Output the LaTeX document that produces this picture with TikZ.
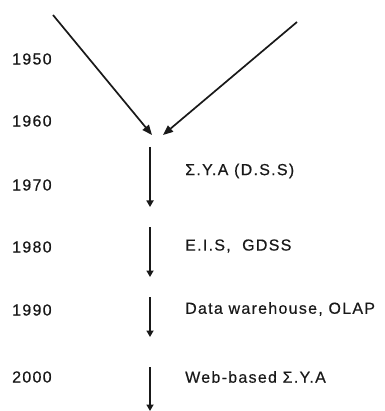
\documentclass[tikz,border=0pt]{standalone}
\usepackage{fontspec}
\setmainfont{Liberation Sans}
\newfontfamily\labfont[LetterSpace=8,FakeBold=0.4]{Liberation Sans}
\usetikzlibrary{arrows.meta}
\begin{document}
\begin{tikzpicture}[x=1pt,y=-1pt,
  txt/.style={font=\labfont\fontsize{16}{18}\selectfont, text=black!90, inner sep=0pt, anchor=west},
  diag/.style={line width=1.7pt, draw=black!90, -{Triangle[length=10pt,width=8pt]}},
  vert/.style={line width=2.6pt, draw=black!90, -{Triangle[length=6.5pt,width=7pt]}}]
\useasboundingbox[fill=white] (0,0) rectangle (384,411);
% years
\node[txt] (y50) at (12,59) {1950};
\node[txt] (y60) at (12,121) {1960};
\node[txt] (y70) at (12,185) {1970};
\node[txt] (y80) at (12,247) {1980};
\node[txt] (y90) at (12,310) {1990};
\node[txt] (y00) at (12,377) {2000};
% descriptions
\node[txt] (dss) at (185,171) {Σ.Y.A (D.S.S)};
\node[txt] (eis) at (185,246) {E.I.S,\ \ GDSS};
\node[txt] (dw)  at (185,309) {Data warehouse, OLAP};
\node[txt] (web) at (185,377) {Web-based Σ.Y.A};
% converging arrows
\coordinate (l0) at (53,15);
\coordinate (l1) at (152,135);
\coordinate (r0) at (297,22);
\coordinate (r1) at (163,135);
\draw[diag] (l0) -- (l1);
\draw[diag] (r0) -- (r1);
% timeline arrows
\coordinate (a0) at (150,147); \coordinate (a1) at (150,207);
\coordinate (b0) at (150,227); \coordinate (b1) at (150,277);
\coordinate (c0) at (150,297); \coordinate (c1) at (150,337);
\coordinate (d0) at (150,367); \coordinate (d1) at (150,411);
\draw[vert] (a0) -- (a1);
\draw[vert] (b0) -- (b1);
\draw[vert] (c0) -- (c1);
\draw[vert] (d0) -- (d1);
\end{tikzpicture}
\end{document}
